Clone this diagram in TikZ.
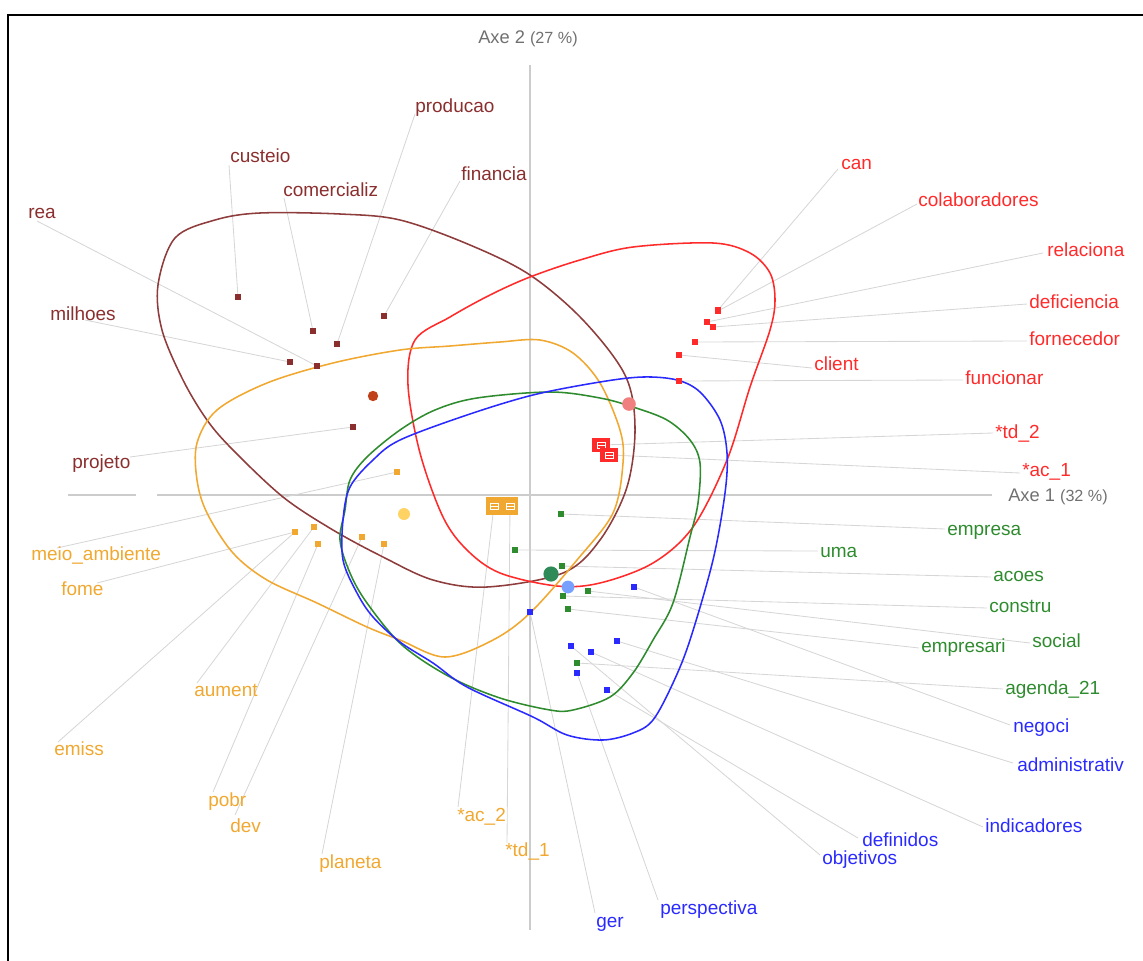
\documentclass[tikz,border=0pt]{standalone}
\usepackage{fontspec}
\setmainfont{Liberation Sans}
\pgfdeclarelayer{back}
\pgfsetlayers{back,main}
\definecolor{cMar}{HTML}{8B2E2E}
\definecolor{cMarHull}{HTML}{8E3C3C}
\definecolor{cRed}{HTML}{FF2A2A}
\definecolor{cOra}{HTML}{F0A830}
\definecolor{cGrn}{HTML}{2E8B2E}
\definecolor{cBlu}{HTML}{2A2AFF}
\definecolor{leadgray}{HTML}{D6D6D6}
\definecolor{axisgray}{HTML}{CCCCCC}
\definecolor{axtext}{HTML}{707070}
\definecolor{mMarC}{HTML}{C0401A}
\definecolor{mRedC}{HTML}{F08080}
\definecolor{mOraC}{HTML}{FFD264}
\definecolor{mGrnC}{HTML}{2E8B57}
\definecolor{mBluC}{HTML}{78A0FF}

% one word: its point, its label and the leader line between them
\newcommand\wordpt[6]{%
  \node[pt, fill=#2] (p#1) at (#3) {};
  \node[lbl, text=#2] (l#1) at (#4) {#5};
  \coordinate (s#1) at (#6);
  \begin{pgfonlayer}{back}\draw[leader] (s#1) -- (p#1);\end{pgfonlayer}%
}
% one modality box (*ac_, *td_) with its label
\newcommand\boxmark[7]{%
  \node[#7, fill=#2] (p#1) at (#3) {};
  \draw[white, line width=0.5pt] ([shift={(-4,-3)}]p#1.center) rectangle ([shift={(4,3)}]p#1.center);
  \draw[white, line width=0.5pt] ([shift={(-4,0)}]p#1.center) -- ([shift={(4,0)}]p#1.center);
  \node[lbl, text=#2] (l#1) at (#4) {#5};
  \coordinate (s#1) at (#6);
  \begin{pgfonlayer}{back}\draw[leader] (s#1) -- (p#1);\end{pgfonlayer}%
}

\begin{document}
\begin{tikzpicture}[x=0.025cm, y=-0.025cm,
  pt/.style={rectangle, inner sep=0pt, minimum size=0.14cm},
  redbox/.style={rectangle, inner sep=0pt, minimum width=0.44cm, minimum height=0.37cm},
  orabox/.style={rectangle, inner sep=0pt, minimum width=0.4cm, minimum height=0.43cm},
  lbl/.style={anchor=mid west, inner sep=0pt, yshift=-0.08cm, font=\fontsize{13.5}{16}\selectfont},
  axlbl/.style={anchor=mid west, inner sep=0pt, yshift=-0.06cm, text=axtext, font=\fontsize{13}{16}\selectfont},
  leader/.style={draw=leadgray, line width=0.6pt},
  hull/.style={line width=1.1pt, smooth cycle, tension=0.55},
  mean/.style={circle, inner sep=0pt}]

\useasboundingbox (0,0) rectangle (1143,960);
\draw[black, line width=1.4pt] (8,15) rectangle (1170,990);

% factorial axes
\begin{pgfonlayer}{back}
\draw[axisgray, line width=2pt] (530,65) -- (530,930);
\draw[axisgray, line width=2pt] (68,495) -- (136,495);
\draw[axisgray, line width=2pt] (157,495) -- (992,495);
\end{pgfonlayer}
\node[axlbl] (ax2) at (478,37) {Axe 2 {\fontsize{11.5}{14}\selectfont(27 \%)}};
\node[axlbl] (ax1) at (1008,495) {Axe 1 {\fontsize{11.5}{14}\selectfont(32 \%)}};

% class envelopes
\draw[cMarHull, hull] plot coordinates {(158,285) (175,238) (215,220) (260,213) (340,214)
  (400,220) (470,245) (530,275) (583,320) (625,375) (635,427) (627,487) (600,540)
  (563,573) (487,587) (433,580) (383,557) (333,530) (283,497) (233,450) (207,420)
  (183,380) (162,330)};
\draw[cRed, hull] plot coordinates {(408,385) (415,340) (450,317) (490,295) (530,277)
  (580,260) (633,247) (713,243) (750,253) (770,273) (775,300) (770,330) (750,387)
  (727,460) (693,527) (653,563) (600,583) (557,586) (500,573) (467,550) (443,517)
  (420,453)};
\draw[cOra, hull] plot coordinates {(197,443) (217,410) (267,383) (333,363) (400,350)
  (450,346) (500,342) (540,340) (573,353) (600,383) (620,430) (623,463) (613,513)
  (577,560) (530,613) (493,640) (445,657) (400,640) (367,627) (317,603) (267,580)
  (233,553) (207,513) (197,480)};
\draw[cGrn, hull] plot coordinates {(340,540) (345,510) (350,480) (367,457) (400,430)
  (435,410) (477,398) (550,392) (600,398) (633,407) (667,420) (690,440) (700,463)
  (698,503) (690,537) (673,603) (653,640) (633,673) (610,697) (573,710) (550,710)
  (500,698) (450,677) (402,645) (367,603) (350,573)};
\draw[cBlu, hull] plot coordinates {(343,520) (350,487) (373,460) (400,440) (467,415)
  (533,395) (600,382) (643,377) (677,380) (700,392) (720,420) (727,453) (725,493)
  (713,560) (690,640) (673,683) (653,720) (633,733) (603,740) (567,735) (533,717)
  (467,687) (433,663) (400,642) (373,617) (357,593) (343,560)};

% class centres
\node[mean, fill=mMarC, minimum size=0.26cm] (mMar) at (373,396) {};
\node[mean, fill=mRedC, minimum size=0.34cm] (mRed) at (629,404) {};
\node[mean, fill=mOraC, minimum size=0.3cm] (mOra) at (404,514) {};
\node[mean, fill=mGrnC, minimum size=0.38cm] (mGrn) at (551,574) {};
\node[mean, fill=mBluC, minimum size=0.32cm] (mBlu) at (568,587) {};

% class 1
\wordpt{producao}{cMar}{337,344}{415,106}{producao}{415,114}
\wordpt{custeio}{cMar}{238,297}{230,156}{custeio}{229,165}
\wordpt{comercializ}{cMar}{313,331}{283,190}{comercializ}{284,198}
\wordpt{financia}{cMar}{384,316}{461,174}{financia}{460,181}
\wordpt{rea}{cMar}{317,366}{28,212}{rea}{37,221}
\wordpt{milhoes}{cMar}{290,362}{50,314}{milhoes}{85,320}
\wordpt{projeto}{cMar}{353,427}{72,462}{projeto}{130,457}

% class 2
\wordpt{can}{cRed}{718,310}{841,163}{can}{838,169}
\wordpt{colab}{cRed}{718,311}{918,200}{colaboradores}{917,204}
\wordpt{relaciona}{cRed}{707,322}{1047,250}{relaciona}{1043,253}
\wordpt{deficiencia}{cRed}{713,327}{1029,302}{deficiencia}{1027,304}
\wordpt{fornecedor}{cRed}{695,342}{1029,339}{fornecedor}{1027,341}
\wordpt{client}{cRed}{679,355}{814,364}{client}{812,368}
\wordpt{funcionar}{cRed}{679,381}{965,378}{funcionar}{963,380}
\boxmark{tdtwo}{cRed}{601,445}{995,432}{*td\_2}{993,433}{redbox}
\boxmark{acone}{cRed}{609,455}{1022,470}{*ac\_1}{1020,473}{redbox}

% class 3
\wordpt{empresa}{cGrn}{561,514}{947,529}{empresa}{945,529}
\wordpt{uma}{cGrn}{515,550}{820,551}{uma}{818,551}
\wordpt{acoes}{cGrn}{562,566}{993,575}{acoes}{991,577}
\wordpt{constru}{cGrn}{563,596}{989,606}{constru}{987,608}
\wordpt{empresari}{cGrn}{568,609}{921,646}{empresari}{919,648}
\wordpt{social}{cGrn}{588,591}{1032,641}{social}{1030,643}
\wordpt{agenda}{cGrn}{577,663}{1005,688}{agenda\_21}{1003,689}

% class 4
\wordpt{negoci}{cBlu}{634,587}{1013,726}{negoci}{1010,725}
\wordpt{admin}{cBlu}{617,641}{1017,765}{administrativ}{1013,763}
\wordpt{indic}{cBlu}{591,652}{985,826}{indicadores}{983,827}
\wordpt{defin}{cBlu}{607,690}{862,840}{definidos}{858,838}
\wordpt{objet}{cBlu}{571,646}{822,858}{objetivos}{820,855}
\wordpt{persp}{cBlu}{577,673}{660,908}{perspectiva}{658,900}
\wordpt{ger}{cBlu}{530,612}{596,921}{ger}{595,913}

% class 5
\wordpt{meio}{cOra}{397,472}{31,554}{meio\_ambiente}{57,548}
\wordpt{fome}{cOra}{295,532}{61,589}{fome}{97,583}
\wordpt{aument}{cOra}{314,527}{194,690}{aument}{197,683}
\wordpt{emiss}{cOra}{295,532}{54,749}{emiss}{58,742}
\wordpt{pobr}{cOra}{318,544}{208,800}{pobr}{213,792}
\wordpt{dev}{cOra}{362,537}{230,826}{dev}{235,815}
\wordpt{planeta}{cOra}{384,544}{319,862}{planeta}{322,854}
\boxmark{actwo}{cOra}{494,506}{457,815}{*ac\_2}{458,807}{orabox}
\boxmark{tdone}{cOra}{510,506}{505,850}{*td\_1}{507,843}{orabox}

\end{tikzpicture}
\end{document}
